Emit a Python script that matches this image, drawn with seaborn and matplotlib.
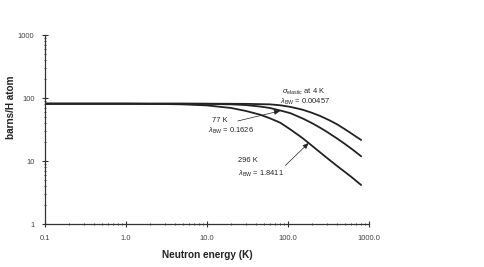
import numpy as np
import pandas as pd
import matplotlib
matplotlib.use("Agg")
import matplotlib.pyplot as plt
import seaborn as sns
from matplotlib.ticker import LogLocator, FixedLocator, FixedFormatter

# ---- data ----
energy_4K = [0.1, 10, 30, 60, 80, 107, 150, 189, 250, 333, 400, 500, 589, 700, 800]
sigma_4K = [82, 82, 81.5, 80, 77.4, 73, 66, 60, 52.3, 44, 38.8, 32.5, 28.3, 24.4, 21.8]
energy_77K = [0.1, 5, 10, 20, 30, 45, 60, 80, 107, 156, 200, 250, 300, 403, 500, 650, 800]
sigma_77K = [82, 82, 81.5, 80, 78, 74, 70, 64, 58, 47, 40, 34, 29.5, 23, 19, 14.8, 12]
energy_296K = [0.1, 1, 3, 5, 10, 20, 30, 45, 60, 80, 107, 150, 189, 250, 300, 400, 600, 800]
sigma_296K = [82, 82, 81, 80, 77, 70, 63, 55, 48, 41, 32, 23.5, 18.5, 13.8, 11.4, 8.5, 5.7, 4.2]
series_names = ["4 K", "77 K", "296 K"]

x_ticks = [0.1, 1, 10, 100, 1000]
x_ticklabels = ["0.1", "1.0", "10.0", "100.0", "1000.0"]
y_ticks = [1, 10, 100, 1000]
y_ticklabels = ["1", "10", "100", "1000"]

frames = []
for name, e, s in zip(series_names, [energy_4K, energy_77K, energy_296K],
                      [sigma_4K, sigma_77K, sigma_296K]):
    frames.append(pd.DataFrame({"energy": e, "sigma": s, "T": name}))
df = pd.concat(frames, ignore_index=True)

sns.set_style("white")
plt.rcParams["font.family"] = ["Liberation Sans", "DejaVu Sans"]
plt.rcParams["mathtext.fontset"] = "custom"
plt.rcParams["mathtext.rm"] = "Liberation Sans"
plt.rcParams["mathtext.it"] = "Liberation Sans:italic"

fig = plt.figure(figsize=(4.85, 2.67), dpi=100)
ax = fig.add_axes([0.0928, 0.160, 0.668, 0.708])

sns.lineplot(data=df, x="energy", y="sigma", units="T", estimator=None,
             color="#222222", linewidth=1.3, ax=ax, legend=False, sort=True)

ax.set_xscale("log")
ax.set_yscale("log")
ax.set_xlim(0.1, 1000)
ax.set_ylim(1, 1000)

ax.xaxis.set_major_locator(FixedLocator(x_ticks))
ax.xaxis.set_major_formatter(FixedFormatter(x_ticklabels))
ax.yaxis.set_major_locator(FixedLocator(y_ticks))
ax.yaxis.set_major_formatter(FixedFormatter(y_ticklabels))
ax.xaxis.set_minor_locator(LogLocator(base=10, subs=np.arange(2, 10)))
ax.yaxis.set_minor_locator(LogLocator(base=10, subs=np.arange(2, 10)))
ax.xaxis.set_minor_formatter(plt.NullFormatter())
ax.yaxis.set_minor_formatter(plt.NullFormatter())

for side in ["top", "right"]:
    ax.spines[side].set_visible(False)
for side in ["left", "bottom"]:
    ax.spines[side].set_color("#333333")
    ax.spines[side].set_linewidth(0.9)

ax.tick_params(which="major", direction="inout", length=5, width=0.8,
               color="#333333", labelsize=5.5, labelcolor="#444444", pad=5)
ax.tick_params(which="minor", direction="inout", length=2, width=0.6,
               color="#333333")
ax.tick_params(axis="y", which="both", left=True)
ax.tick_params(axis="x", which="both", bottom=True)

ax.set_xlabel("Neutron energy (K)", fontsize=7.2, fontweight="bold",
              color="#222222", labelpad=6)
ax.set_ylabel("barns/H atom", fontsize=7.2, fontweight="bold",
              color="#222222")
ax.yaxis.set_label_coords(-0.09, 0.62)

tk = dict(fontsize=5.4, color="#222222", ha="left", va="center")
ax.text(84, 128, r"$\sigma_{\rm elastic}$ at 4 K", **tk)
ax.text(80.5, 86, r"$\lambda_{\rm BW}$ = 0.00457", **tk)
ax.text(11.5, 43.6, "77 K", **tk)
ax.text(10.3, 30.3, r"$\lambda_{\rm BW}$ = 0.1626", **tk)
ax.text(24.3, 10.1, "296 K", **tk)
ax.text(24.3, 6.4, r"$\lambda_{\rm BW}$ = 1.8411", **tk)

arrow = dict(arrowstyle="-|>,head_length=0.35,head_width=0.15",
             color="#222222", lw=0.5, shrinkA=0, shrinkB=0)
ax.annotate("", xy=(80, 63), xytext=(24, 43.6), arrowprops=arrow)
ax.annotate("", xy=(180, 19.5), xytext=(93, 8.6), arrowprops=arrow)

fig.savefig("out.png", dpi=100)
